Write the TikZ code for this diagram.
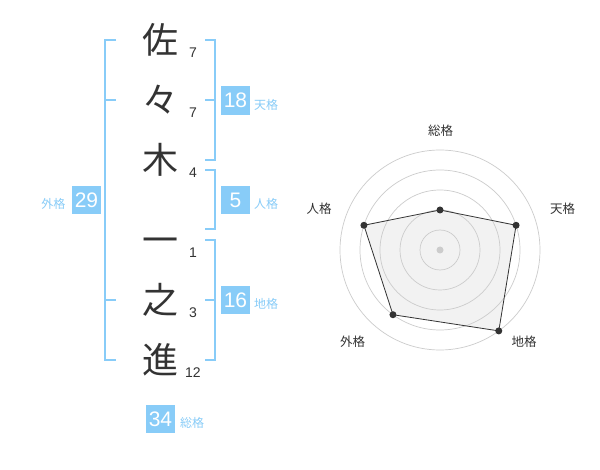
\documentclass[tikz,border=0pt]{standalone}
\usepackage{fontspec}
\usetikzlibrary{calc}
\setmainfont{Liberation Sans}
\newfontfamily\jp{Noto Sans CJK JP}
\definecolor{kblue}{RGB}{136,204,248}
\definecolor{kdark}{RGB}{51,51,51}
\definecolor{kgrid}{RGB}{204,204,204}
\definecolor{kfill}{RGB}{240,240,240}
\begin{document}
\begin{tikzpicture}[x=1pt,y=-1pt,
  kanji/.style={inner sep=0pt,text=kdark,font=\jp\fontsize{36}{36}\selectfont,text height=31.68pt,text depth=4.32pt},
  strokes/.style={inner sep=0pt,anchor=base,text=kdark,font=\fontsize{14}{14}\selectfont},
  numbox/.style={fill=kblue,text=white,minimum width=28.5pt,minimum height=28.5pt,inner sep=0pt,font=\fontsize{21}{21}\selectfont},
  kaku/.style={inner sep=0pt,anchor=west,text=kblue,font=\jp\fontsize{12}{12}\selectfont},
  bracketline/.style={draw=kblue,line width=2pt},
  radlabel/.style={inner sep=0pt,text=kdark,font=\jp\fontsize{12.5}{12.5}\selectfont},
  griddisc/.style={draw=kgrid,line width=0.7pt},
  dotmark/.style={circle,fill=kdark,inner sep=0pt,minimum size=7pt}
]
\useasboundingbox (0,0) rectangle (600,470);
\fill[white] (0,0) rectangle (600,470);

% name characters
\node[kanji] (c1) at (160,40) {佐};
\node[kanji] (c2) at (160,100) {々};
\node[kanji] (c3) at (160,160) {木};
\node[kanji] (c4) at (160,240) {一};
\node[kanji] (c5) at (160,300) {之};
\node[kanji] (c6) at (160,360) {進};

% stroke counts
\node[strokes] (s1) at (193,57.7) {7};
\node[strokes] (s2) at (193,117.7) {7};
\node[strokes] (s3) at (193,178) {4};
\node[strokes] (s4) at (193,258) {1};
\node[strokes] (s5) at (193,318) {3};
\node[strokes] (s6) at (193,377.7) {12};

% brackets
\draw[bracketline] (205,40) -- (215,40) -- (215,160) -- (205,160);
\draw[bracketline] (205,100) -- (215,100);
\draw[bracketline] (205,170) -- (215,170) -- (215,229.5) -- (205,229.5);
\draw[bracketline] (205,240) -- (215,240) -- (215,360) -- (205,360);
\draw[bracketline] (205,300) -- (215,300);
\draw[bracketline] (116,40) -- (105,40) -- (105,360) -- (116,360);
\draw[bracketline] (105,100) -- (116,100);
\draw[bracketline] (105,300) -- (116,300);

% totals
\node[numbox] (ten) at (235.5,100.5) {18};
\node[kaku] (tenl) at (254,104.5) {天格};
\node[numbox] (jin) at (235.5,200) {5};
\node[kaku] (jinl) at (254,204) {人格};
\node[numbox] (chi) at (235.5,300) {16};
\node[kaku] (chil) at (254,304) {地格};
\node[numbox] (gai) at (86.5,200) {29};
\node[kaku,anchor=east] (gail) at (65.5,204) {外格};
\node[numbox] (sou) at (160.5,419) {34};
\node[kaku] (soul) at (180,422.5) {総格};

% radar chart
\coordinate (o) at (440,250);
\coordinate (r1) at ($(o)+(-90:40)$);
\coordinate (r2) at ($(o)+(-18:80)$);
\coordinate (r3) at ($(o)+(54:100)$);
\coordinate (r4) at ($(o)+(126:80)$);
\coordinate (r5) at ($(o)+(198:80)$);
\fill[kfill,opacity=0.85] (r1) -- (r2) -- (r3) -- (r4) -- (r5) -- cycle;
\foreach \r in {20,40,60,80,100} \draw[griddisc] (o) circle (\r);
\fill[kgrid] (o) circle (3.5);
\draw[kdark,line width=0.8pt,line join=round] (r1) -- (r2) -- (r3) -- (r4) -- (r5) -- cycle;
\foreach \p in {r1,r2,r3,r4,r5} \node[dotmark] at (\p) {};

\node[radlabel] (l1) at (440.5,131) {総格};
\node[radlabel] (l2) at (562.5,208.5) {天格};
\node[radlabel] (l3) at (524,342) {地格};
\node[radlabel] (l4) at (352.5,342) {外格};
\node[radlabel] (l5) at (319,208.5) {人格};
\end{tikzpicture}
\end{document}
